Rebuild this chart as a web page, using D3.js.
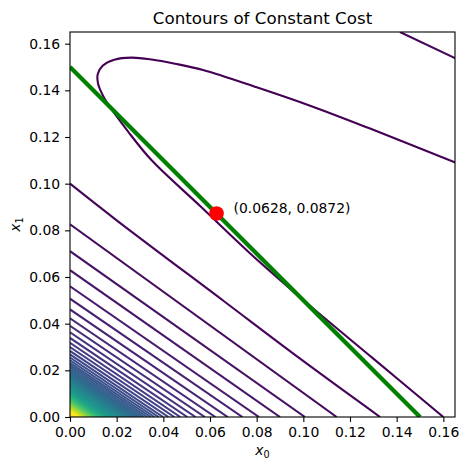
<!DOCTYPE html>
<html>
<head>
<meta charset="utf-8">
<script src="https://cdn.jsdelivr.net/npm/d3@7/dist/d3.min.js"></script>
<style>
  body { margin: 0; background: #fff; }
  svg { display: block; font-family: "DejaVu Sans", sans-serif; }
</style>
</head>
<body>
<svg class="cost" width="469" height="470"></svg>
<script>
// axis range and ticks
var axisMax = 0.165;
var xTicks = [0, 0.02, 0.04, 0.06, 0.08, 0.10, 0.12, 0.14, 0.16];
var yTicks = [0, 0.02, 0.04, 0.06, 0.08, 0.10, 0.12, 0.14, 0.16];

// budget line x0 + x1 = 0.15 and the optimum on it
var budget = 0.15;
var optimum = [0.0628, 0.0872];

// contour levels are coloured from 1 (purple) up to this one (yellow)
var colourTop = 70;

// level 1 : the curved contour (x0, x1)
var level1 = [
  [0.1654, 0.1090], [0.1286, 0.1236], [0.1029, 0.1334], [0.0800, 0.1413],
  [0.0570, 0.1487], [0.0450, 0.1514], [0.0350, 0.1532], [0.0264, 0.1540],
  [0.0190, 0.1531], [0.0140, 0.1505], [0.0119, 0.1470], [0.0120, 0.1430],
  [0.0135, 0.1390], [0.0157, 0.1350], [0.0250, 0.1222], [0.0350, 0.1100],
  [0.0560, 0.0902], [0.0771, 0.0702], [0.1007, 0.0495], [0.1300, 0.0250],
  [0.1600, 0.0000]
];

// level 2 : piece in the top right corner, and lower piece
var level2Upper = [[0.1414, 0.1650], [0.1654, 0.1536]];
var level2Lower = [[0, 0.1000], [0.0200, 0.0843], [0.0660, 0.0496], [0.0986, 0.0250], [0.1329, 0]];

// levels 3..80 : nearly straight, intercepts on the x1 axis and the x0 axis
var yIntercepts = [
  0.0826, 0.0711, 0.0629, 0.0560, 0.0507, 0.0461, 0.0423, 0.0391, 0.0363, 0.0339,
  0.0318, 0.0300, 0.0283, 0.0268, 0.0255, 0.0243, 0.0232, 0.0222, 0.0213, 0.0204,
  0.0196, 0.0189, 0.0182, 0.0176, 0.0170, 0.0165, 0.0160, 0.0155, 0.0150, 0.0144,
  0.0138, 0.0132, 0.0126, 0.0121, 0.0116, 0.0111, 0.0107, 0.0103, 0.00985, 0.00946,
  0.00909, 0.00873, 0.00840, 0.00806, 0.00775, 0.00746, 0.00714, 0.00685, 0.00658, 0.00629,
  0.00602, 0.00578, 0.00552, 0.00529, 0.00505, 0.00481, 0.00457, 0.00433, 0.00410, 0.00388,
  0.00365, 0.00342, 0.00321, 0.00299, 0.00277, 0.00256, 0.00235, 0.00215, 0.00195, 0.00176,
  0.00157, 0.00140, 0.00123, 0.00108, 0.00093, 0.00078, 0.00065, 0.00051
];
var xIntercepts = [
  0.1143, 0.1007, 0.0900, 0.0810, 0.0739, 0.0676, 0.0623, 0.0578, 0.0538, 0.0503,
  0.0473, 0.0447, 0.0422, 0.0399, 0.0380, 0.0362, 0.0346, 0.0331, 0.0317, 0.0304,
  0.0292, 0.0282, 0.0271, 0.0262, 0.0253, 0.0246, 0.0238, 0.0232, 0.0225, 0.0216,
  0.0207, 0.0198, 0.0189, 0.0182, 0.0174, 0.0167, 0.0161, 0.0155, 0.0148, 0.0142,
  0.0136, 0.0131, 0.0126, 0.0121, 0.0116, 0.0112, 0.0107, 0.0103, 0.0099, 0.0094,
  0.0090, 0.0087, 0.0083, 0.0079, 0.0076, 0.0072, 0.0069, 0.0065, 0.0062, 0.0058,
  0.0055, 0.0051, 0.0048, 0.0045, 0.0042, 0.0038, 0.0035, 0.0032, 0.0029, 0.0026,
  0.0024, 0.0021, 0.0018, 0.0016, 0.0014, 0.0012, 0.0010, 0.0008
];

var svg = d3.select("svg.cost"),
    margin = {top: 32, left: 70},
    width = 385,
    height = 385,
    g = svg.append("g").attr("transform", "translate(" + margin.left + "," + margin.top + ")");

var x = d3.scaleLinear().domain([0, axisMax]).range([0, width]),
    y = d3.scaleLinear().domain([0, axisMax]).range([height, 0]);

var colour = d3.scaleSequential(d3.interpolateViridis)
    .domain([1, colourTop])
    .clamp(true);

g.append("clipPath")
    .attr("id", "plot-clip")
  .append("rect")
    .attr("width", width)
    .attr("height", height);

var line = d3.line()
    .x(function(d) { return x(d[0]); })
    .y(function(d) { return y(d[1]); });

var curved = d3.line()
    .curve(d3.curveCatmullRom)
    .x(function(d) { return x(d[0]); })
    .y(function(d) { return y(d[1]); });

// build the list of contour pieces
var pieces = [
  {level: 1, points: level1, smooth: true},
  {level: 2, points: level2Upper, smooth: false},
  {level: 2, points: level2Lower, smooth: true}
];
yIntercepts.forEach(function(c, i) {
  pieces.push({level: i + 3, points: [[0, c], [xIntercepts[i], 0]], smooth: false});
});

var contours = g.append("g")
    .attr("clip-path", "url(#plot-clip)");

contours.selectAll(".contour")
  .data(pieces)
  .enter()
  .append("path")
    .attr("class", "contour")
    .attr("d", function(d) { return d.smooth ? curved(d.points) : line(d.points); })
    .style("fill", "none")
    .style("stroke", function(d) { return colour(d.level); })
    .style("stroke-width", 2.1);

// budget line
contours.append("path")
    .attr("d", line([[0, budget], [budget, 0]]))
    .style("fill", "none")
    .style("stroke", "#008000")
    .style("stroke-width", 4.2);

// optimum point and its label
g.append("circle")
    .attr("cx", x(optimum[0]))
    .attr("cy", y(optimum[1]))
    .attr("r", 7.3)
    .style("fill", "#ff0000");

g.append("text")
    .attr("x", x(optimum[0]) + 17)
    .attr("y", y(optimum[1]) - 1)
    .style("font-size", "13.9px")
    .style("fill", "#000")
    .text("(" + optimum[0].toFixed(4) + ", " + optimum[1].toFixed(4) + ")");

// axes
var fmt = d3.format(".2f");

var xAxis = g.append("g")
    .attr("transform", "translate(0," + height + ")")
    .call(d3.axisBottom(x).tickValues(xTicks).tickFormat(fmt).tickSize(4.9).tickPadding(4.9));

var yAxis = g.append("g")
    .call(d3.axisLeft(y).tickValues(yTicks).tickFormat(fmt).tickSize(4.9).tickPadding(4.9));

[xAxis, yAxis].forEach(function(a) {
  a.select(".domain").remove();
  a.selectAll("line").style("stroke", "#000").style("stroke-width", 1.1);
  a.selectAll("text")
      .style("font-family", "DejaVu Sans")
      .style("font-size", "13.9px")
      .style("fill", "#000");
});

g.append("rect")
    .attr("width", width)
    .attr("height", height)
    .style("fill", "none")
    .style("stroke", "#000")
    .style("stroke-width", 1.1);

// title and axis labels
svg.append("text")
    .attr("x", margin.left + width / 2)
    .attr("y", 23.5)
    .attr("text-anchor", "middle")
    .style("font-size", "16.7px")
    .text("Contours of Constant Cost");

var xLabel = svg.append("text")
    .attr("x", margin.left + width / 2)
    .attr("y", 455)
    .attr("text-anchor", "middle")
    .style("font-size", "13.9px");
xLabel.append("tspan").style("font-style", "italic").text("x");
xLabel.append("tspan").attr("dy", 3).style("font-size", "9.7px").text("0");

var yLabel = svg.append("text")
    .attr("transform", "translate(20," + (margin.top + height / 2) + ") rotate(-90)")
    .attr("text-anchor", "middle")
    .style("font-size", "13.9px");
yLabel.append("tspan").style("font-style", "italic").text("x");
yLabel.append("tspan").attr("dy", 3).style("font-size", "9.7px").text("1");
</script>
</body>
</html>
